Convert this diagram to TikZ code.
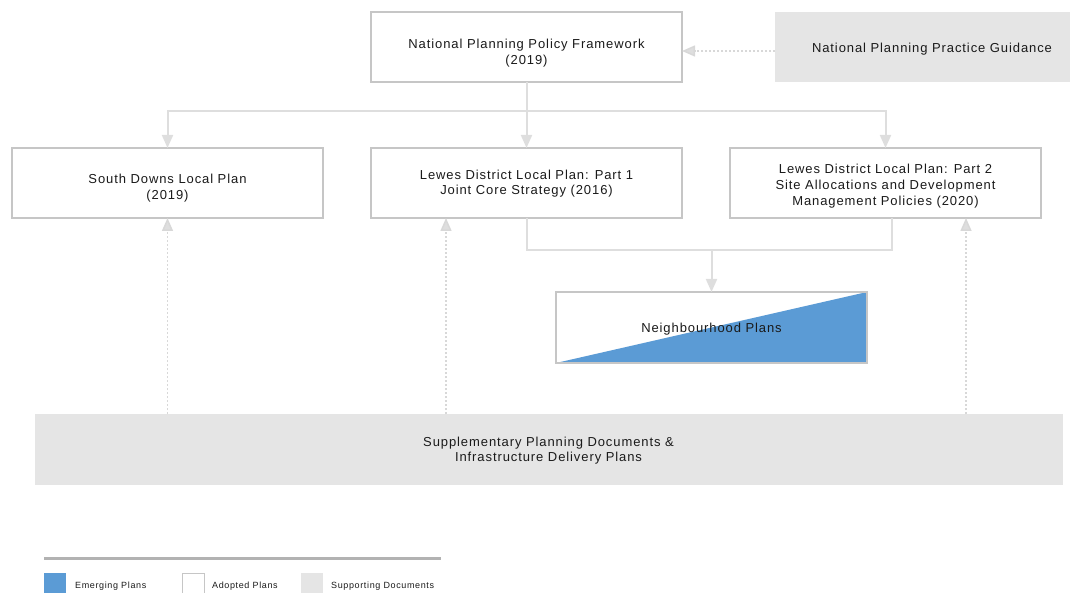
\documentclass[tikz,border=0pt]{standalone}
\usepackage{fontspec}
\setmainfont{Liberation Sans}[LetterSpace=7]
\usetikzlibrary{arrows.meta,calc}
\definecolor{boxline}{HTML}{C6C6C6}
\definecolor{conn}{HTML}{DEDEDE}
\definecolor{dotc}{HTML}{D8D8D8}
\definecolor{suppfill}{HTML}{E5E5E5}
\definecolor{emerg}{HTML}{5B9BD5}
\definecolor{txt}{HTML}{1A1A1A}
\begin{document}
\begin{tikzpicture}[x=1pt,y=-1pt,
  plan/.style={draw=boxline,line width=1.6pt,fill=white,minimum width=311pt,minimum height=70pt,
    inner sep=0pt,outer sep=0pt},
  supp/.style={fill=suppfill,minimum width=311pt,minimum height=70pt,inner sep=0pt,outer sep=0pt},
  plantext/.style={anchor=north,inner sep=0pt,align=center,text=txt,font=\fontsize{13}{15.8}\selectfont},
  link/.style={draw=conn,line width=2pt,-{Triangle[length=13pt,width=11pt]}},
  linkplain/.style={draw=conn,line width=2pt},
  dotlink/.style={draw=dotc,line width=1.5pt,dash pattern=on 2pt off 2pt,-{Triangle[length=13pt,width=11pt,fill=conn]}},
  legtext/.style={anchor=west,inner sep=0pt,text=txt,font=\fontsize{9}{10}\selectfont}]
\useasboundingbox (0,0) rectangle (1070,593);

% boxes
\node[plan] (nppf) at (526.5,47) {};
\node[supp] (nppg) at (930.5,47) {};
\node[plan] (sdlp) at (167.5,183) {};
\node[plan] (ld1) at (526.5,183) {};
\node[plan] (ld2) at (885.5,183) {};
\node[plan,minimum height=71pt] (np) at (711.5,327.5) {};
\fill[emerg] (np.south west) -- (np.north east) -- (np.south east) -- cycle;
\draw[boxline,line width=1.6pt] (np.south west) rectangle (np.north east);
\node[supp,minimum width=1028pt,minimum height=71pt] (spd) at (549,449.5) {};

% texts
\node[plantext] (nppft) at (526.5,39) {National Planning Policy Framework\\(2019)};
\node[plantext] (nppgt) at (932,42.5) {National Planning Practice Guidance};
\node[plantext] (sdlpt) at (167.5,174) {South Downs Local Plan\\(2019)};
\node[plantext] (ld1t) at (526.5,169.5) {Lewes District Local Plan: Part 1\\Joint Core Strategy (2016)};
\node[plantext] (ld2t) at (885.5,164.2) {Lewes District Local Plan: Part 2\\Site Allocations and Development\\Management Policies (2020)};
\node[plantext] (npt) at (711.5,322.7) {Neighbourhood Plans};
\node[plantext] (spdt) at (548.5,436.5) {Supplementary Planning Documents \&\\Infrastructure Delivery Plans};

% connectors from NPPF
\coordinate (top) at (526.5,111.5);
\draw[linkplain] (nppf.south) -- (top);
\draw[link] (top) -| (sdlp.north);
\draw[link] (top) -- (ld1.north);
\draw[link] (top) -| (ld2.north);

% NPPG to NPPF
\draw[dotlink] (nppg.west |- 0,51) -- (nppf.east |- 0,51);

% to neighbourhood plans
\coordinate (l1b) at (526.5,250);
\coordinate (l2b) at (891.5,250);
\coordinate (npin) at (711.5,250);
\draw[linkplain] (ld1.south) -- (l1b) -- (l2b) -- ($(ld2.south)+(6,0)$);
\draw[link] (npin) -- (np.north);

% SPD up to plans
\draw[dotlink] (spd.north -| sdlp.south) -- (sdlp.south);
\draw[dotlink] (spd.north -| 446,0) -- ($(ld1.south)+(-80.5,0)$);
\draw[dotlink] (spd.north -| 966,0) -- ($(ld2.south)+(80.5,0)$);

% legend
\coordinate (legl) at (44,558);
\coordinate (legr) at (441,558);
\draw[draw=boxline!90!black,line width=3pt] (legl) -- (legr);
\node[fill=emerg,minimum width=22pt,minimum height=22pt,inner sep=0pt,anchor=north west] (le) at (44,573) {};
\node[legtext] (let) at (75,586) {Emerging Plans};
\node[draw=boxline,line width=1pt,fill=white,minimum width=22pt,minimum height=22pt,inner sep=0pt,anchor=north west] (la) at (181.5,572.5) {};
\node[legtext] (lat) at (212,586) {Adopted Plans};
\node[fill=suppfill,minimum width=22pt,minimum height=22pt,inner sep=0pt,anchor=north west] (ls) at (301,573) {};
\node[legtext] (lst) at (331,586) {Supporting Documents};
\end{tikzpicture}
\end{document}
